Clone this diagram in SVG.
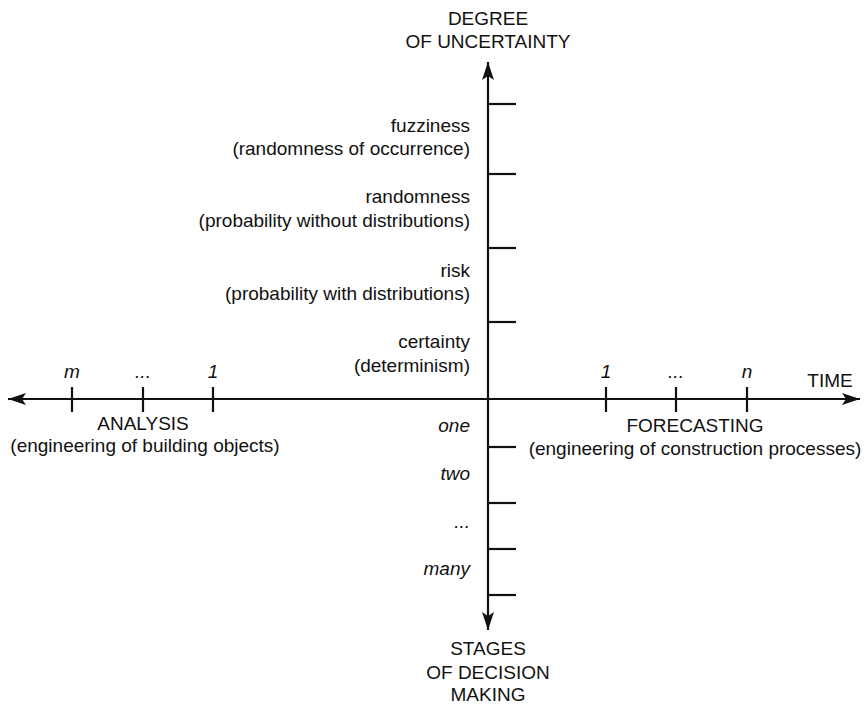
<svg xmlns="http://www.w3.org/2000/svg" width="867" height="705" viewBox="0 0 867 705">
<style>
text{font-family:"Liberation Sans",Arial,sans-serif;font-size:19px;fill:#111}
.r{text-anchor:end}.m{text-anchor:middle}.i{font-style:italic}
.ax{stroke:#111;stroke-width:2.2;fill:none}
.tk{stroke:#111;stroke-width:2.2}
</style>
<defs>
<marker id="ahl" viewBox="0 0 18 12" refX="18" refY="6" markerWidth="18" markerHeight="12" markerUnits="userSpaceOnUse" orient="auto">
<path d="M0,0 L18,6 L0,12 L4,6 z" fill="#111"/>
</marker>
</defs>
<rect width="867" height="705" fill="#fff"/>
<g id="connectors">
<line class="ax" x1="488" y1="399" x2="488" y2="62" marker-end="url(#ahl)"/>
<line class="ax" x1="488" y1="399" x2="488" y2="630" marker-end="url(#ahl)"/>
<line class="ax" x1="488" y1="399" x2="8" y2="399" marker-end="url(#ahl)"/>
<line class="ax" x1="488" y1="399" x2="860" y2="399" marker-end="url(#ahl)"/>
<g id="ticks">
<line class="tk" x1="488" y1="104" x2="516" y2="104"/>
<line class="tk" x1="488" y1="174" x2="516" y2="174"/>
<line class="tk" x1="488" y1="248" x2="516" y2="248"/>
<line class="tk" x1="488" y1="322" x2="516" y2="322"/>
<line class="tk" x1="488" y1="447" x2="516" y2="447"/>
<line class="tk" x1="488" y1="503" x2="516" y2="503"/>
<line class="tk" x1="488" y1="549" x2="516" y2="549"/>
<line class="tk" x1="488" y1="595" x2="516" y2="595"/>
<line class="tk" x1="72" y1="387" x2="72" y2="412"/>
<line class="tk" x1="143" y1="387" x2="143" y2="412"/>
<line class="tk" x1="213" y1="387" x2="213" y2="412"/>
<line class="tk" x1="606" y1="387" x2="606" y2="412"/>
<line class="tk" x1="676" y1="387" x2="676" y2="412"/>
<line class="tk" x1="747" y1="387" x2="747" y2="412"/>
</g>
</g>
<g id="y-axis-title"><text class="m" x="488" y="25">DEGREE</text><text class="m" x="488" y="48">OF UNCERTAINTY</text></g>
<g id="fuzziness"><text class="r" x="470" y="132">fuzziness</text><text class="r" x="470" y="155">(randomness of occurrence)</text></g>
<g id="randomness"><text class="r" x="470" y="203">randomness</text><text class="r" x="470" y="227">(probability without distributions)</text></g>
<g id="risk"><text class="r" x="470" y="277">risk</text><text class="r" x="470" y="300">(probability with distributions)</text></g>
<g id="certainty"><text class="r" x="470" y="348">certainty</text><text class="r" x="470" y="372">(determinism)</text></g>
<g id="left-ticks"><text class="m i" x="72" y="378">m</text><text class="m i" x="143" y="378">...</text><text class="m i" x="213" y="378">1</text></g>
<g id="right-ticks"><text class="m i" x="606" y="378">1</text><text class="m i" x="676" y="378">...</text><text class="m i" x="747" y="378">n</text></g>
<g id="time"><text class="m" x="830" y="387">TIME</text></g>
<g id="analysis"><text class="m" x="143" y="430">ANALYSIS</text><text class="m" x="145" y="452">(engineering of building objects)</text></g>
<g id="forecasting"><text class="m" x="695" y="432">FORECASTING</text><text class="m" x="695" y="455">(engineering of construction processes)</text></g>
<g id="stages-labels"><text class="r i" x="470" y="432">one</text><text class="r i" x="470" y="480">two</text><text class="r i" x="470" y="528">...</text><text class="r i" x="470" y="575">many</text></g>
<g id="x-bottom-title"><text class="m" x="488" y="655">STAGES</text><text class="m" x="488" y="679">OF DECISION</text><text class="m" x="488" y="701">MAKING</text></g>
</svg>
